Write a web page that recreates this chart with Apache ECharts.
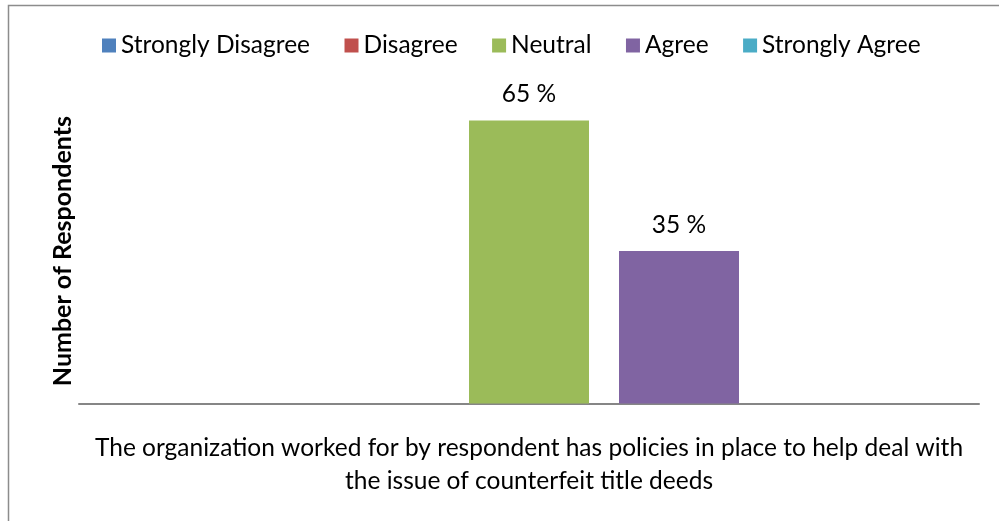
<!DOCTYPE html>
<html>
<head>
<meta charset="utf-8">
<script src="https://cdn.jsdelivr.net/npm/echarts@6/dist/echarts.min.js"></script>
<style>
html,body{margin:0;padding:0;background:#fff;}
#c{width:999px;height:521px;}
</style>
</head>
<body>
<div id="c"></div>
<script>
const categories = ["The organization worked for by respondent has policies in place to help deal with\nthe issue of counterfeit title deeds"];
const seriesNames = ["Strongly Disagree", "Disagree", "Neutral", "Agree", "Strongly Agree"];
const stronglyDisagree = [null];
const disagree = [null];
const neutral = [65];
const agree = [35];
const stronglyAgree = [null];
const seriesColors = ["#4f81bd", "#c0504d", "#9bbb59", "#8064a2", "#4bacc6"];
const yAxisTitle = "Number of Respondents";

const values = [stronglyDisagree, disagree, neutral, agree, stronglyAgree];
const FONT = "Lato";
const FS = 24.5;

const chart = echarts.init(document.getElementById('c'), null, {renderer: 'canvas'});
chart.setOption({
  animation: false,
  backgroundColor: '#fff',
  textStyle: {fontFamily: FONT, color: '#000'},
  graphic: [{
    type: 'rect',
    shape: {x: 8.5, y: 5.5, width: 1100, height: 600},
    style: {fill: 'none', stroke: '#8c8c8c', lineWidth: 1.5},
    silent: true
  }],
  legend: {
    top: 33,
    left: 102,
    padding: 0,
    itemWidth: 14,
    itemHeight: 14,
    itemGap: 34.5,
    icon: 'rect',
    textStyle: {fontFamily: FONT, fontSize: FS, color: '#000'},
    data: seriesNames
  },
  grid: {left: 79, right: 20, top: 98.7, bottom: 117.5, containLabel: false},
  xAxis: {
    type: 'category',
    data: categories,
    axisLine: {show: true, lineStyle: {color: '#868686', width: 2}},
    axisTick: {show: false},
    axisLabel: {fontFamily: FONT, fontSize: FS, color: '#000', lineHeight: 33, margin: 28, align: 'center'}
  },
  yAxis: {
    type: 'value',
    min: 0,
    max: 70,
    axisLine: {show: false},
    axisTick: {show: false},
    axisLabel: {show: false},
    splitLine: {show: false},
    name: yAxisTitle,
    nameLocation: 'middle',
    nameRotate: 90,
    nameGap: 4,
    nameTextStyle: {fontFamily: FONT, fontSize: 25, fontWeight: 'bold', color: '#000'}
  },
  series: seriesNames.map((n, i) => ({
    name: n,
    type: 'bar',
    data: values[i],
    barWidth: 120,
    barGap: '25%',
    itemStyle: {color: seriesColors[i]},
    label: {
      show: true,
      position: 'top',
      distance: 14,
      fontFamily: FONT,
      fontSize: FS,
      color: '#000',
      formatter: p => (p.value == null ? '' : p.value + ' %')
    }
  }))
});
</script>
</body>
</html>
